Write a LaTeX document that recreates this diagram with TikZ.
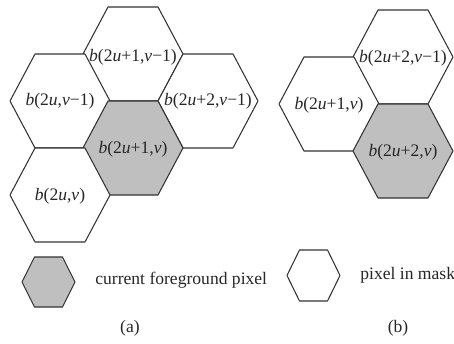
\documentclass[tikz,border=0pt]{standalone}
\usepackage{fontspec}
\setmainfont{Liberation Serif}
\usetikzlibrary{calc}

\begin{document}
\begin{tikzpicture}[x=1cm,y=1cm,
    hexline/.style={draw=black!80,line width=0.6pt,line join=round},
    pixlabel/.style={inner sep=0pt,text=black!85,font=\fontsize{10}{12}\selectfont},
    capt/.style={inner sep=0pt,text=black!85,font=\fontsize{10}{12}\selectfont}]
        \useasboundingbox (0,0) rectangle (9.08,6.86);

        % Sechseckraster (a) und (b)
        \foreach \cx/\cy/\fc in {2.66/5.78/white,1.2/4.84/white,4.16/4.84/white,
                                2.66/3.9/black!25,1.2/2.96/white,
                                8.06/5.72/white,6.58/4.78/white,8.06/3.84/black!25} {
          \draw[hexline,fill=\fc] (\cx,\cy) ++(-1,0) -- ++(0.5,0.94) -- ++(1,0)
            -- ++(0.5,-0.94) -- ++(-0.5,-0.94) -- ++(-1,0) -- cycle;
        }

        % Beschriftung (a)
        \node[pixlabel] (a1) at (2.66,5.72) {\textit{b}(2\textit{u}+1,\textit{v}−1)};
        \node[pixlabel] (a2) at (1.2,4.84) {\textit{b}(2\textit{u},\textit{v}−1)};
        \node[pixlabel] (a3) at (4.16,4.84) {\textit{b}(2\textit{u}+2,\textit{v}−1)};
        \node[pixlabel] (a4) at (2.66,3.88) {\textit{b}(2\textit{u}+1,\textit{v})};
        \node[pixlabel] (a5) at (1.2,2.94) {\textit{b}(2\textit{u},\textit{v})};

        % Beschriftung (b)
        \node[pixlabel] (b1) at (8.06,5.70) {\textit{b}(2\textit{u}+2,\textit{v}−1)};
        \node[pixlabel] (b2) at (6.58,4.76) {\textit{b}(2\textit{u}+1,\textit{v})};
        \node[pixlabel] (b3) at (8.06,3.82) {\textit{b}(2\textit{u}+2,\textit{v})};

        % Legende
        \draw[hexline,fill=black!25] (0.97,1.22) ++(-0.53,0) -- ++(0.25,0.5) -- ++(0.56,0)
          -- ++(0.25,-0.5) -- ++(-0.25,-0.5) -- ++(-0.56,0) -- cycle;
        \node[capt,anchor=west] (fg) at (1.9,1.26) {current foreground pixel};
        \draw[hexline,fill=white] (6.27,1.35) ++(-0.53,0) -- ++(0.25,0.51) -- ++(0.56,0)
          -- ++(0.25,-0.51) -- ++(-0.25,-0.51) -- ++(-0.56,0) -- cycle;
        \node[capt,anchor=west] (mask) at (7.2,1.36) {pixel in mask};

        % Teilbilder
        \node[capt] (capa) at (2.6,0.3) {(a)};
        \node[capt] (capb) at (7.96,0.3) {(b)};
      \end{tikzpicture}
\end{document}
